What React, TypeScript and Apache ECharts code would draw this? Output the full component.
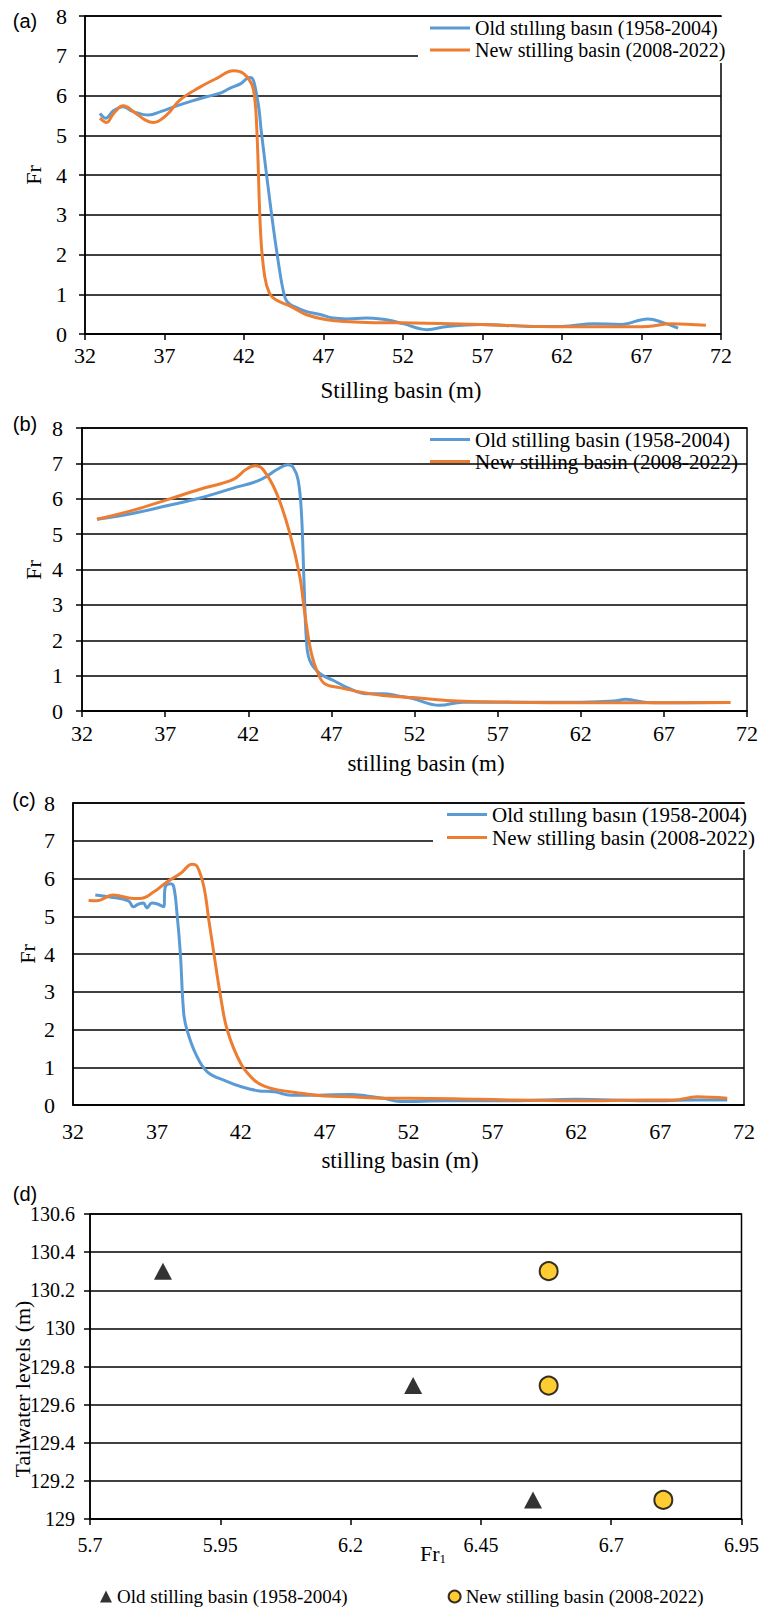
import React, { useEffect, useRef } from "react";
import * as echarts from "echarts";

const SERIF = "Liberation Serif, Times New Roman, serif";
const SANS = "Liberation Sans, Arial, sans-serif";
const BLUE = "#5B9BD5";
const ORANGE = "#ED7D31";
const GOLD = "#FFC000";
const INK = "#000";

// Tick positions along the stilling basin (m) and the Fr1 axis
const basinTicks = [32, 37, 42, 47, 52, 57, 62, 67, 72];
const fr1Ticks = [5.7, 5.95, 6.2, 6.45, 6.7, 6.95];

// (a) Froude number along the basin
const aOldX = [32.94, 33.3, 33.8, 34.4, 35.0, 35.98, 36.8, 37.77, 38.7, 39.65, 40.5, 41.1, 41.8, 42.17, 42.42, 42.85, 43.1, 43.75, 44.2, 44.5, 44.7, 45.1, 45.9, 46.8, 47.6, 48.46, 49.7, 50.6, 51.2, 52.0, 53.5, 54.8, 56.9, 60.0, 62.0, 64.0, 65.7, 67.4, 68.4, 69.3];
const aOldY = [5.55, 5.43, 5.62, 5.72, 5.6, 5.51, 5.6, 5.74, 5.86, 5.97, 6.06, 6.18, 6.3, 6.42, 6.45, 5.89, 5.05, 2.96, 1.7, 1.03, 0.82, 0.7, 0.57, 0.49, 0.4, 0.38, 0.4, 0.38, 0.34, 0.26, 0.11, 0.19, 0.24, 0.19, 0.19, 0.26, 0.24, 0.38, 0.28, 0.15];
const aNewX = [32.94, 33.36, 33.8, 34.4, 35.2, 35.8, 36.3, 37.14, 37.98, 39.23, 40.28, 41.33, 41.75, 42.27, 42.6, 42.8, 43.05, 43.3, 43.6, 44.0, 44.9, 45.9, 47.2, 49.7, 51.8, 56.9, 62.0, 65.3, 67.4, 68.85, 71.05];
const aNewY = [5.43, 5.32, 5.55, 5.74, 5.55, 5.38, 5.32, 5.51, 5.89, 6.21, 6.43, 6.62, 6.6, 6.43, 6.14, 5.2, 2.5, 1.45, 1.03, 0.86, 0.7, 0.49, 0.36, 0.29, 0.28, 0.24, 0.18, 0.18, 0.19, 0.26, 0.22];

// (b)
const bOldX = [32.9, 35.1, 37.1, 39.1, 41.1, 42.5, 43.1, 43.7, 44.4, 44.7, 45.0, 45.2, 45.35, 45.5, 45.7, 46.3, 47.1, 48.1, 49.1, 50.1, 51.1, 51.9, 53.5, 54.9, 57.9, 62.0, 64.0, 64.7, 66.0, 67.0, 71.0];
const bOldY = [5.42, 5.59, 5.8, 6.02, 6.3, 6.49, 6.63, 6.82, 6.96, 6.89, 6.53, 5.59, 3.7, 2.0, 1.43, 1.06, 0.87, 0.63, 0.49, 0.49, 0.42, 0.35, 0.16, 0.25, 0.25, 0.25, 0.28, 0.33, 0.24, 0.23, 0.24];
const bNewX = [32.9, 35.1, 37.1, 39.1, 41.1, 41.9, 42.4, 42.9, 43.7, 44.5, 45.1, 45.4, 45.8, 46.2, 46.6, 47.5, 48.7, 50.1, 51.1, 51.9, 53.9, 57.9, 62.0, 66.0, 71.0];
const bNewY = [5.42, 5.68, 5.97, 6.27, 6.55, 6.84, 6.93, 6.82, 6.16, 5.02, 3.8, 2.76, 1.62, 1.06, 0.77, 0.66, 0.54, 0.44, 0.4, 0.38, 0.3, 0.25, 0.23, 0.23, 0.24];

// (c)
const cOldX = [33.33, 34.2, 35.3, 35.6, 35.9, 36.2, 36.4, 36.7, 37.0, 37.4, 37.5, 37.8, 38.0, 38.2, 38.4, 38.6, 38.8, 39.3, 40.0, 41.2, 42.0, 43.0, 44.0, 45.0, 46.6, 48.5, 49.5, 50.5, 51.5, 54.2, 58.2, 62.0, 66.2, 69.2, 71.0];
const cOldY = [5.56, 5.51, 5.41, 5.25, 5.32, 5.35, 5.22, 5.35, 5.33, 5.25, 5.78, 5.86, 5.79, 5.07, 4.01, 2.43, 1.98, 1.37, 0.88, 0.62, 0.49, 0.38, 0.35, 0.26, 0.26, 0.28, 0.24, 0.18, 0.09, 0.11, 0.11, 0.15, 0.11, 0.13, 0.13];
const cNewX = [32.93, 33.4, 34.4, 35.6, 36.0, 36.8, 37.6, 38.4, 39.1, 39.4, 39.8, 40.1, 40.4, 40.8, 41.2, 42.0, 42.8, 43.4, 44.2, 45.6, 47.0, 48.5, 50.5, 52.0, 56.2, 62.0, 66.2, 67.8, 69.2, 71.0];
const cNewY = [5.42, 5.41, 5.56, 5.47, 5.47, 5.64, 5.91, 6.13, 6.38, 6.32, 5.78, 4.89, 4.01, 2.87, 1.98, 1.1, 0.66, 0.5, 0.4, 0.31, 0.24, 0.22, 0.18, 0.18, 0.15, 0.11, 0.13, 0.13, 0.22, 0.18];

// (d) Tailwater level against Fr1
const dOldFr = [5.84, 6.32, 6.55];
const dOldLevel = [130.3, 129.7, 129.1];
const dNewFr = [6.58, 6.58, 6.8];
const dNewLevel = [130.3, 129.7, 129.1];

const LABELS: Record<string, string> = {
  aOld: "Old stıllıng basın (1958-2004)",
  aNew: "New stilling basin (2008-2022)",
  bOld: "Old stilling basin (1958-2004)",
  bNew: "New stilling basin (2008-2022)",
  cOld: "Old stıllıng basın (1958-2004)",
  cNew: "New stilling basin (2008-2022)",
  dOld: "Old stilling basin (1958-2004)",
  dNew: "New stilling basin (2008-2022)",
};

const pairs = (xs: number[], ys: number[]) => xs.map((x, i) => [x, ys[i]]);

const lineW = 1.5;
const axisLineStyle = { color: INK, width: lineW };

function basinAxes(gi: number, opts: { ticks: boolean; labelMargin: number; yMargin: number }) {
  const x = {
    type: "value",
    gridIndex: gi,
    min: 32,
    max: 72,
    axisLine: { show: true, onZero: false, lineStyle: axisLineStyle },
    axisTick: { show: opts.ticks, customValues: basinTicks, length: 6, lineStyle: axisLineStyle },
    axisLabel: { customValues: basinTicks, margin: opts.labelMargin, fontSize: 22, fontFamily: SERIF, color: INK },
    splitLine: { show: false },
  };
  const y = {
    type: "value",
    gridIndex: gi,
    min: 0,
    max: 8,
    interval: 1,
    axisLine: { show: true, lineStyle: axisLineStyle },
    axisTick: { show: opts.ticks, length: 6, lineStyle: axisLineStyle },
    axisLabel: { margin: opts.yMargin, fontSize: 22, fontFamily: SERIF, color: INK },
    splitLine: { show: true, lineStyle: { color: INK, width: lineW } },
  };
  return { x, y };
}

function lineSeries(name: string, gi: number, xs: number[], ys: number[], color: string) {
  return {
    type: "line",
    name,
    xAxisIndex: gi,
    yAxisIndex: gi,
    data: pairs(xs, ys),
    showSymbol: false,
    smooth: 0.4,
    lineStyle: { color, width: 3 },
    itemStyle: { color },
    emphasis: { disabled: true },
  };
}

function text(x: number, y: number, str: string, size: number, family = SERIF, rotation = 0) {
  return {
    type: "text",
    x,
    y,
    rotation,
    style: { text: str, fontSize: size, fontFamily: family, fill: INK, align: "center", verticalAlign: "middle" },
  };
}

export default function App() {
  const ref = useRef<HTMLDivElement>(null);

  useEffect(() => {
    if (!ref.current) return;
    const chart = echarts.init(ref.current, undefined, { renderer: "svg" });

    const A = basinAxes(0, { ticks: true, labelMargin: 10, yMargin: 18 });
    const B = basinAxes(1, { ticks: true, labelMargin: 11, yMargin: 19 });
    const C = basinAxes(2, { ticks: false, labelMargin: 15, yMargin: 18 });

    const fmt = (n: string) => LABELS[n] ?? n;
    const legendText = (size: number) => ({ fontFamily: SERIF, fontSize: size, color: INK });

    const gridBox = { show: true, borderColor: INK, borderWidth: lineW, backgroundColor: "transparent", containLabel: false };

    chart.setOption({
      animation: false,
      backgroundColor: "#fff",
      textStyle: { fontFamily: SERIF },
      grid: [
        { ...gridBox, left: 85, right: 41, top: 16, height: 318 },
        { ...gridBox, left: 82, right: 15, top: 428, height: 283 },
        { ...gridBox, left: 73, right: 18, top: 803, height: 302 },
        { ...gridBox, left: 90, right: 18, top: 1214, height: 305 },
      ],
      xAxis: [
        A.x,
        B.x,
        C.x,
        {
          type: "value",
          gridIndex: 3,
          min: 5.7,
          max: 6.95,
          axisLine: { show: true, onZero: false, lineStyle: axisLineStyle },
          axisTick: { show: true, customValues: fr1Ticks, length: 6, lineStyle: axisLineStyle },
          axisLabel: { customValues: fr1Ticks, margin: 16, fontSize: 20, fontFamily: SERIF, color: INK },
          splitLine: { show: false },
        },
      ],
      yAxis: [
        A.y,
        B.y,
        C.y,
        {
          type: "value",
          gridIndex: 3,
          min: 129,
          max: 130.6,
          interval: 0.2,
          axisLine: { show: true, lineStyle: axisLineStyle },
          axisTick: { show: true, length: 6, lineStyle: axisLineStyle },
          axisLabel: { margin: 15, fontSize: 20, fontFamily: SERIF, color: INK },
          splitLine: { show: true, lineStyle: { color: INK, width: lineW } },
        },
      ],
      legend: [
        {
          data: ["aOld", "aNew"],
          formatter: fmt,
          orient: "vertical",
          left: 418,
          top: 17,
          padding: [1, 9, 3, 12],
          itemGap: 2,
          itemWidth: 40,
          itemHeight: 3,
          icon: "rect",
          backgroundColor: "#fff",
          selectedMode: false,
          textStyle: legendText(20),
        },
        {
          data: ["bOld", "bNew"],
          formatter: fmt,
          orient: "vertical",
          left: 430,
          top: 429,
          padding: 0,
          itemGap: 1,
          itemWidth: 40,
          itemHeight: 3,
          icon: "rect",
          selectedMode: false,
          textStyle: legendText(21),
        },
        {
          data: ["cOld", "cNew"],
          formatter: fmt,
          orient: "vertical",
          left: 433,
          top: 804,
          padding: [0, 2, 2, 14],
          itemGap: 2,
          itemWidth: 40,
          itemHeight: 3,
          icon: "rect",
          backgroundColor: "#fff",
          selectedMode: false,
          textStyle: legendText(21),
        },
        {
          data: ["dOld", "dNew"],
          formatter: fmt,
          orient: "horizontal",
          left: 100,
          top: 1587,
          padding: 0,
          itemGap: 100,
          itemWidth: 12,
          itemHeight: 12,
          selectedMode: false,
          textStyle: legendText(19),
        },
      ],
      series: [
        lineSeries("aOld", 0, aOldX, aOldY, BLUE),
        lineSeries("aNew", 0, aNewX, aNewY, ORANGE),
        lineSeries("bOld", 1, bOldX, bOldY, BLUE),
        lineSeries("bNew", 1, bNewX, bNewY, ORANGE),
        lineSeries("cOld", 2, cOldX, cOldY, BLUE),
        lineSeries("cNew", 2, cNewX, cNewY, ORANGE),
        {
          type: "scatter",
          name: "dOld",
          xAxisIndex: 3,
          yAxisIndex: 3,
          data: pairs(dOldFr, dOldLevel),
          symbol: "triangle",
          symbolSize: [18, 17],
          itemStyle: { color: INK },
          emphasis: { disabled: true },
        },
        {
          type: "scatter",
          name: "dNew",
          xAxisIndex: 3,
          yAxisIndex: 3,
          data: pairs(dNewFr, dNewLevel),
          symbol: "circle",
          symbolSize: 18,
          itemStyle: { color: GOLD, borderColor: INK, borderWidth: 2 },
          emphasis: { disabled: true },
        },
      ],
      graphic: [
        text(25, 21, "(a)", 20, SANS),
        text(25, 424, "(b)", 20, SANS),
        text(24, 800, "(c)", 20, SANS),
        text(25, 1194, "(d)", 20, SANS),
        text(33, 175, "Fr", 22, SERIF, Math.PI / 2),
        text(33, 570, "Fr", 22, SERIF, Math.PI / 2),
        text(27, 954, "Fr", 22, SERIF, Math.PI / 2),
        text(22, 1389, "Tailwater levels (m)", 22, SERIF, Math.PI / 2),
        text(401, 390, "Stilling basin (m)", 23),
        text(426, 763, "stilling basin (m)", 23),
        text(400, 1160, "stilling basin (m)", 23),
        {
          type: "text",
          x: 420,
          y: 1553,
          style: {
            text: "{f|Fr}{s|1}",
            fill: INK,
            align: "left",
            verticalAlign: "middle",
            rich: {
              f: { fontSize: 22, fontFamily: SERIF, fill: INK },
              s: { fontSize: 13, fontFamily: SERIF, fill: INK, padding: [10, 0, 0, 0] },
            },
          },
        },
      ],
    });

    return () => chart.dispose();
  }, []);

  return (
    <div
      ref={ref}
      style={{ position: "absolute", left: 0, top: 0, width: 762, height: 1612, background: "#fff" }}
    />
  );
}
